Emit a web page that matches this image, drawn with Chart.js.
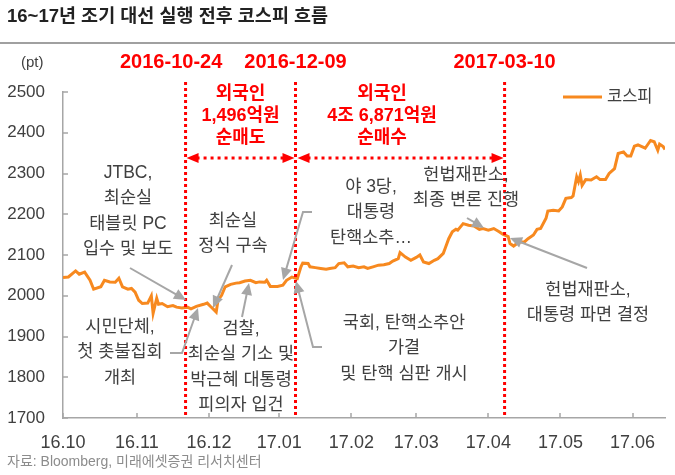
<!DOCTYPE html>
<html>
<head>
<meta charset="utf-8">
<title>16~17년 조기 대선 실행 전후 코스피 흐름</title>
<script src="https://cdn.jsdelivr.net/npm/chart.js"></script>
<style>
  body { margin: 0; background: #fff; }
</style>
</head>
<body>
<canvas id="kospiChart" width="675" height="475"></canvas>
<script>
// trading-day index from 16.10 and KOSPI close
const days = [0,1.5,3.5,4.5,6,7.5,8.5,10.5,11.5,13,
  14.5,15.5,16.5,18,19,20,21,22,23.5,24.5,
  25,26,26.5,27.5,29,30.5,31.5,33,34.5,35.5,
  37,39,40,41,41.5,42.5,43,44,45,46.5,
  48,49,50.5,52,53.5,54.5,56,56.5,57.5,59.5,
  61,62,63.5,65,66,66.5,68,68.5,70,71.5,
  73,74,75.5,76.5,78,79,80.5,82,83.5,84.5,
  86,87.5,89,90.5,91.5,93,93.5,95,96.5,98,
  99,100,101.5,103,104,105.5,106,107,108,109,
  109.5,111,112.5,114,115.5,116.5,118,119.5,121,122,
  123.5,124,125,126.5,128,129,130.5,131.5,132.5,134,
  134.5,136,137.5,138.5,139.5,141,141.5,142.5,143,143.5,
  144,145,146.5,148,149,150.5,151.5,153,154,155.5,
  156.5,157.5,158.5,159.5,161.5,163,164,165,165.5,166.5,
  167];
const kospi = [2045,2046,2061,2053,2058,2038,2016,2022,2038,2034,
  2033,2043,2022,2016,2018,2009,1989,1981,1982,2000,
  1957,1994,1979,1981,1973,1976,1972,1970,1972,1968,
  1974,1979,1982,1973,1969,1960,1989,2001,2022,2028,
  2031,2032,2036,2038,2032,2034,2033,2038,2023,2023,
  2026,2038,2046,2042,2071,2080,2079,2071,2069,2067,
  2065,2067,2069,2079,2081,2071,2073,2069,2071,2067,
  2071,2075,2076,2079,2085,2091,2106,2095,2087,2094,
  2100,2083,2079,2087,2091,2104,2116,2140,2157,2163,
  2161,2177,2173,2171,2163,2165,2161,2165,2157,2151,
  2145,2128,2122,2132,2132,2140,2149,2163,2165,2190,
  2208,2210,2208,2218,2239,2241,2245,2292,2280,2296,
  2271,2285,2284,2292,2285,2285,2300,2312,2349,2353,
  2343,2343,2367,2370,2362,2381,2378,2357,2372,2366,
  2359];

const monthDays = [0, 20.5, 40.5, 60, 80, 98, 118, 138, 158];
const monthLabels = ['16.10','16.11','16.12','17.01','17.02','17.03','17.04','17.05','17.06'];
const eventDays = [34, 64.5, 122.5];
const eventLabels = ['2016-10-24', '2016-12-09', '2017-03-10'];
const flowLevel = 2338;
const flowNotes = [['외국인', '1,496억원', '순매도'], ['외국인', '4조 6,871억원', '순매수']];

const ORANGE = '#F7891F';
const RED = '#FF0000';
const GREY = '#A6A6A6';
const TEXT = '#404040';
const FONT = '"Liberation Sans", "Noto Sans CJK KR", sans-serif';

// text notes and arrows around the line (page pixels)
const notes = [
  { x: 128, y: 173, lines: ['JTBC,', '최순실', '태블릿 PC', '입수 및 보도'] },
  { x: 233, y: 221, lines: ['최순실', '정식 구속'] },
  { x: 120, y: 327, lines: ['시민단체,', '첫 촛불집회', '개최'] },
  { x: 241, y: 329, lines: ['검찰,', '최순실 기소 및', '박근혜 대통령', '피의자 입건'] },
  { x: 404, y: 323, lines: ['국회, 탄핵소추안', '가결', '및 탄핵 심판 개시'] },
  { x: 371, y: 187, lines: ['야 3당,', '대통령', '탄핵소추…'] },
  { x: 466, y: 175, lines: ['헌법재판소,', '최종 변론 진행'] },
  { x: 588, y: 290, lines: ['헌법재판소,', '대통령 파면 결정'] }
];
const arrows = [
  [[130, 268], [186, 300]],
  [[232, 265], [213, 308]],
  [[170, 353], [182, 353], [198, 308]],
  [[242, 317], [249, 283]],
  [[322, 347], [313, 347], [296, 281]],
  [[312, 212], [303, 212], [283, 280]],
  [[467, 218], [484, 228]],
  [[587, 268], [510, 238]]
];

function head(ctx, fx, fy, tx, ty, len, w, color) {
  const a = Math.atan2(ty - fy, tx - fx);
  ctx.save();
  ctx.fillStyle = color;
  ctx.beginPath();
  ctx.moveTo(tx, ty);
  ctx.lineTo(tx - len * Math.cos(a) + w / 2 * Math.sin(a), ty - len * Math.sin(a) - w / 2 * Math.cos(a));
  ctx.lineTo(tx - len * Math.cos(a) - w / 2 * Math.sin(a), ty - len * Math.sin(a) + w / 2 * Math.cos(a));
  ctx.closePath();
  ctx.fill();
  ctx.restore();
}

const decor = {
  id: 'decor',
  afterDatasetsDraw(chart) {
    const ctx = chart.ctx;
    const xs = chart.scales.x, ys = chart.scales.y;
    const area = chart.chartArea;

    // inward ticks
    ctx.save();
    ctx.strokeStyle = GREY;
    ctx.lineWidth = 1.5;
    ctx.beginPath();
    for (let v = 1700; v <= 2500; v += 100) {
      const y = Math.round(ys.getPixelForValue(v));
      ctx.moveTo(area.left, y); ctx.lineTo(area.left + 5, y);
    }
    monthDays.forEach(d => {
      const x = Math.round(xs.getPixelForValue(d));
      ctx.moveTo(x, area.bottom); ctx.lineTo(x, area.bottom - 5);
    });
    ctx.stroke();
    ctx.restore();

    // event lines
    ctx.save();
    ctx.strokeStyle = RED;
    ctx.lineWidth = 3;
    ctx.setLineDash([3, 3]);
    eventDays.forEach(d => {
      const x = xs.getPixelForValue(d);
      ctx.beginPath();
      ctx.moveTo(x, area.top - 10);
      ctx.lineTo(x, area.bottom);
      ctx.stroke();
    });
    // flow arrows between events
    const fy = ys.getPixelForValue(flowLevel);
    for (let i = 0; i < 2; i++) {
      const x1 = xs.getPixelForValue(eventDays[i]) + (i ? 2 : 1);
      const x2 = xs.getPixelForValue(eventDays[i + 1]) - 1;
      ctx.setLineDash([3, 4]);
      ctx.beginPath();
      ctx.moveTo(x1 + 10, fy);
      ctx.lineTo(x2 - 10, fy);
      ctx.stroke();
      head(ctx, x1 + 12, fy, x1, fy, 12, 10, RED);
      head(ctx, x2 - 12, fy, x2, fy, 12, 10, RED);
    }
    ctx.restore();

    // red labels
    ctx.save();
    ctx.fillStyle = RED;
    ctx.textAlign = 'center';
    ctx.textBaseline = 'middle';
    ctx.font = 'bold 20px ' + FONT;
    const dateX = [eventDays[0] - 4, eventDays[1], eventDays[2]];
    eventLabels.forEach((t, i) => ctx.fillText(t, xs.getPixelForValue(dateX[i]), 62));
    ctx.font = 'bold 18px ' + FONT;
    const noteX = [(eventDays[0] + eventDays[1]) / 2, (eventDays[1] + eventDays[2]) / 2 - 5];
    flowNotes.forEach((lines, i) => {
      lines.forEach((t, j) => ctx.fillText(t, xs.getPixelForValue(noteX[i]), 94 + j * 22));
    });
    ctx.restore();

    // grey arrows
    ctx.save();
    ctx.strokeStyle = GREY;
    ctx.lineWidth = 2;
    arrows.forEach(pts => {
      const n = pts.length;
      const [px, py] = pts[n - 2], [tx, ty] = pts[n - 1];
      const a = Math.atan2(ty - py, tx - px);
      ctx.beginPath();
      ctx.moveTo(pts[0][0], pts[0][1]);
      for (let k = 1; k < n - 1; k++) ctx.lineTo(pts[k][0], pts[k][1]);
      ctx.lineTo(tx - 9 * Math.cos(a), ty - 9 * Math.sin(a));
      ctx.stroke();
      head(ctx, px, py, tx, ty, 12, 11, GREY);
    });
    ctx.restore();

    // notes
    ctx.save();
    ctx.fillStyle = TEXT;
    ctx.textAlign = 'center';
    ctx.textBaseline = 'middle';
    ctx.font = '17.5px ' + FONT;
    notes.forEach(n => n.lines.forEach((t, j) => ctx.fillText(t, n.x, n.y + j * 25.5)));
    ctx.restore();
  },
  afterDraw(chart) {
    const ctx = chart.ctx;
    ctx.save();
    // title and rule
    ctx.fillStyle = '#222';
    ctx.textBaseline = 'middle';
    ctx.font = 'bold 18.5px ' + FONT;
    ctx.fillText('16~17년 조기 대선 실행 전후 코스피 흐름', 7, 17);
    ctx.strokeStyle = '#A0A0A0';
    ctx.lineWidth = 2;
    ctx.beginPath();
    ctx.moveTo(0, 43); ctx.lineTo(675, 43);
    ctx.stroke();
    // unit
    ctx.fillStyle = TEXT;
    ctx.font = '15px ' + FONT;
    ctx.fillText('(pt)', 21, 63);
    // legend
    ctx.strokeStyle = ORANGE;
    ctx.lineWidth = 3;
    ctx.beginPath();
    ctx.moveTo(563, 97); ctx.lineTo(602, 97);
    ctx.stroke();
    ctx.font = '16.5px ' + FONT;
    ctx.fillText('코스피', 607, 97);
    // source
    ctx.fillStyle = '#8C8C8C';
    ctx.font = '14px ' + FONT;
    ctx.fillText('자료: Bloomberg, 미래에셋증권 리서치센터', 7, 462);
    ctx.restore();
  }
};

new Chart(document.getElementById('kospiChart'), {
  type: 'line',
  data: {
    datasets: [{
      label: '코스피',
      data: days.map((d, i) => ({ x: d, y: kospi[i] })),
      borderColor: ORANGE,
      borderWidth: 3,
      pointRadius: 0,
      tension: 0,
      fill: false
    }]
  },
  options: {
    responsive: false,
    animation: false,
    layout: { padding: { top: 92, right: 10, bottom: 0, left: 0 } },
    plugins: { legend: { display: false }, tooltip: { enabled: false } },
    scales: {
      x: {
        type: 'linear',
        min: 0,
        max: 167,
        afterBuildTicks: s => { s.ticks = monthDays.map(v => ({ value: v })); },
        afterFit: s => { s.height = 57; },
        grid: { display: false, drawTicks: false },
        border: { color: GREY, width: 1.5 },
        ticks: {
          autoSkip: false,
          maxRotation: 0,
          padding: 14,
          color: TEXT,
          font: { family: FONT, size: 18 },
          callback: (v, i) => monthLabels[i]
        }
      },
      y: {
        min: 1700,
        max: 2500,
        afterFit: s => { s.width = 63; },
        grid: { display: false, drawTicks: false },
        border: { color: GREY, width: 1.5 },
        ticks: {
          stepSize: 100,
          padding: 18,
          color: TEXT,
          font: { family: FONT, size: 17 },
          callback: v => String(v)
        }
      }
    }
  },
  plugins: [decor]
});
</script>
</body>
</html>
